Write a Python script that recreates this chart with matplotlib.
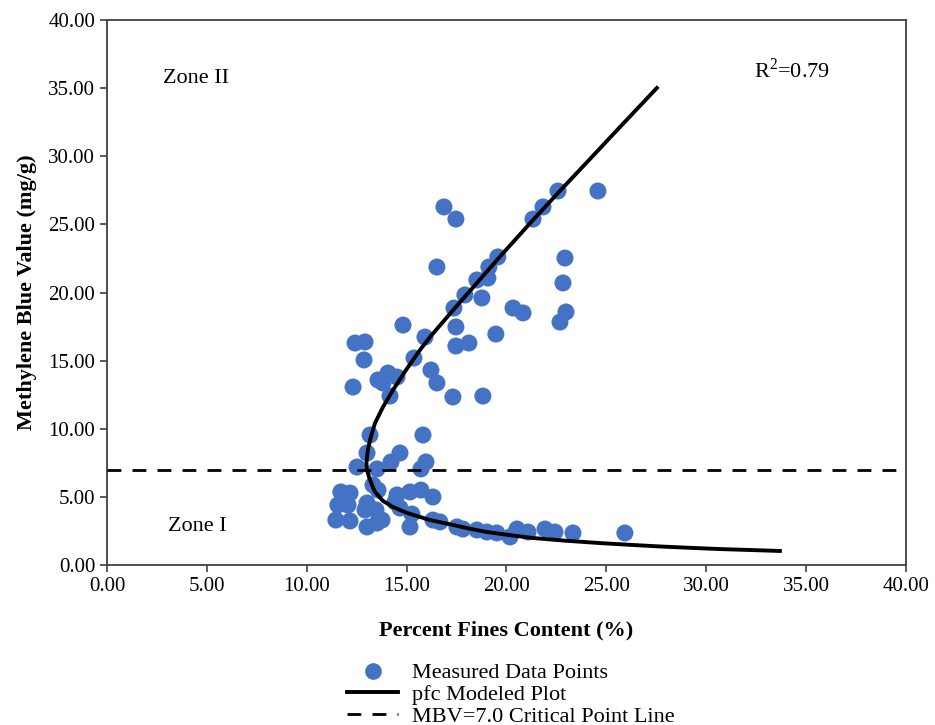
import matplotlib
matplotlib.use("Agg")
import matplotlib.pyplot as plt
from matplotlib.lines import Line2D

plt.rcParams['font.family'] = ['Liberation Serif', 'DejaVu Serif']
plt.rcParams['mathtext.fontset'] = 'custom'
plt.rcParams['mathtext.rm'] = 'Liberation Serif'

# measured data points (percent fines, MBV)
fines = [11.46, 12.17, 11.71, 12.17, 11.56, 12.07, 13.02, 13.52, 13.02, 12.92,
         13.47, 13.77, 13.57, 13.32, 12.52, 13.52, 13.02, 13.17, 14.67, 14.22,
         15.82, 15.97, 15.72, 14.52, 15.17, 15.72, 16.32, 14.67, 15.27, 15.17,
         16.32, 16.67, 17.52, 17.82, 18.52, 19.02, 19.52, 20.18, 20.53, 21.08,
         21.93, 22.43, 23.33, 25.93, 14.42,
         16.52, 19.57, 19.12, 19.07, 18.52, 18.77, 17.92, 17.37, 20.33, 20.83,
         14.82, 12.42, 12.92, 12.87, 15.92, 17.47, 17.47, 18.12, 19.47, 14.07,
         13.82, 14.52, 14.17, 15.37, 16.22, 16.52, 17.32, 18.82, 12.32, 16.87,
         17.47, 22.58, 24.58, 21.83, 21.33, 22.93, 22.83, 22.98, 22.68, 13.57]
mbv = [3.30, 3.23, 5.36, 5.28, 4.40, 4.40, 2.79, 3.08, 4.55, 4.04,
       4.04, 3.30, 5.50, 5.87, 7.19, 7.05, 8.22, 9.54, 8.22, 7.56,
       9.54, 7.56, 7.05, 5.14, 5.36, 5.50, 4.99, 4.18, 3.74, 2.79,
       3.30, 3.16, 2.79, 2.64, 2.57, 2.42, 2.35, 2.06, 2.64, 2.42,
       2.64, 2.42, 2.35, 2.35, 4.62,
       21.87, 22.61, 21.87, 21.06, 20.92, 19.60, 19.82, 18.86, 18.86, 18.50,
       17.61, 16.29, 16.37, 15.05, 16.73, 17.47, 16.07, 16.29, 16.95, 14.09,
       13.36, 13.80, 12.40, 15.19, 14.31, 13.36, 12.33, 12.40, 13.06, 26.28,
       25.39, 27.45, 27.45, 26.28, 25.39, 22.53, 20.70, 18.57, 17.83, 13.58]

# pfc modeled curve
model_x = [33.69, 32.19, 30.69, 29.19, 27.68, 26.18, 24.68, 22.98, 21.33, 20.18,
           19.02, 18.17, 17.32, 16.17, 15.02, 14.32, 13.82, 13.42, 13.27, 13.12,
           13.02, 12.99, 13.02, 13.07, 13.17, 13.42, 13.82, 14.32, 14.97, 15.67,
           16.17, 17.32, 18.52, 19.82, 21.33, 22.68, 24.03, 25.68, 27.53]
model_y = [1.03, 1.10, 1.17, 1.26, 1.36, 1.48, 1.61, 1.78, 1.98, 2.19,
           2.42, 2.66, 2.94, 3.30, 3.82, 4.26, 4.70, 5.36, 5.87, 6.46,
           6.97, 7.49, 7.93, 8.51, 9.17, 10.42, 11.60, 12.84, 14.31, 15.78,
           16.73, 18.69, 20.70, 22.87, 25.32, 27.46, 29.56, 32.14, 35.01]

critical_mbv = 7.0
ticks = [0, 5, 10, 15, 20, 25, 30, 35, 40]

fig = plt.figure(figsize=(9.35, 7.25), dpi=100)
ax = fig.add_axes([0.1144, 0.2207, 0.8545, 0.7517])

blue = '#4472C4'
ax.scatter(fines, mbv, s=150, color=blue, edgecolors='none', zorder=2)
ax.plot(model_x, model_y, color='black', lw=2.8, zorder=3,
        solid_joinstyle='round')
ax.axhline(critical_mbv, color='black', lw=2.0, ls=(0, (5, 4)), zorder=3)

ax.set_xlim(0, 40)
ax.set_ylim(0, 40)
ax.set_xticks(ticks)
ax.set_yticks(ticks)
ax.set_xticklabels(['%.2f' % t for t in ticks])
ax.set_yticklabels(['%.2f' % t for t in ticks])
ax.tick_params(direction='out', length=5, width=1.2, colors='#404040',
               labelcolor='black', labelsize=15)
for sp in ax.spines.values():
    sp.set_color('#404040')
    sp.set_linewidth(1.3)

ax.set_xlabel('Percent Fines Content (%)', fontsize=16, fontweight='bold',
              labelpad=18)
ax.set_ylabel('Methylene Blue Value (mg/g)', fontsize=16, fontweight='bold',
              labelpad=8)

ax.text(2.8, 35.7, 'Zone II', fontsize=16, va='center', ha='left')
ax.text(3.05, 2.8, 'Zone I', fontsize=16, va='center', ha='left')
ax.text(32.4, 36.3, r'R$^{\mathrm{2}}$=0.79', fontsize=16, va='center',
        ha='left')

handles = [
    Line2D([], [], ls='none', marker='o', markersize=12, color=blue,
           markeredgewidth=0),
    Line2D([], [], color='black', lw=2.8),
    Line2D([], [], color='black', lw=2.0, ls=(0, (5, 4))),
]
labels = ['Measured Data Points', 'pfc Modeled Plot',
          'MBV=7.0 Critical Point Line']
fig.legend(handles, labels, loc='upper left', bbox_to_anchor=(0.362, 0.098),
           frameon=False, fontsize=16, handlelength=2.3, labelspacing=0.05,
           handletextpad=0.6, borderaxespad=0)

fig.savefig('out.png', dpi=100)
